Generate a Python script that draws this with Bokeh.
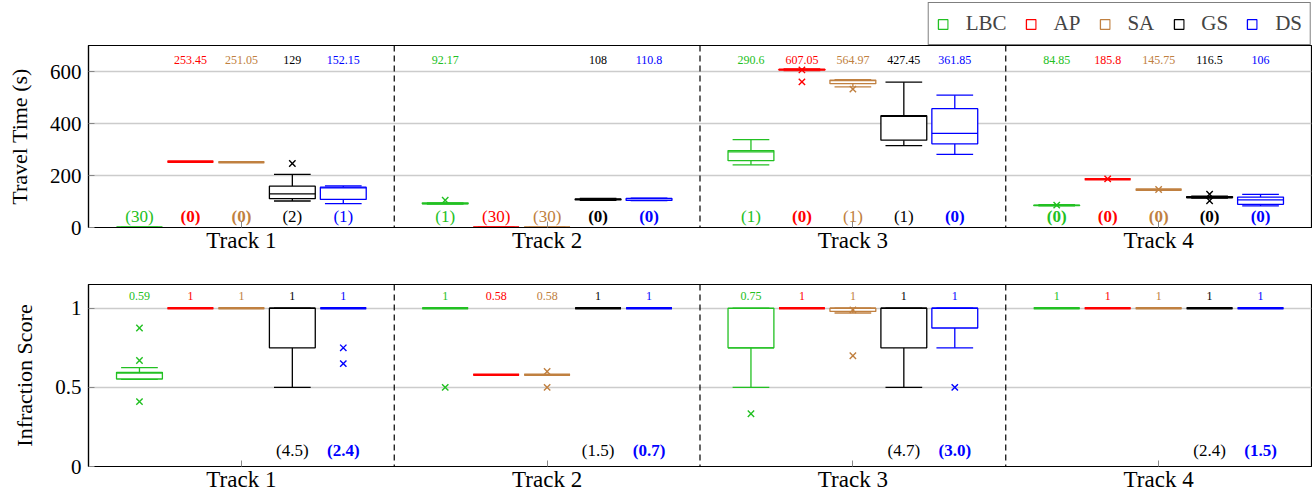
from bokeh.plotting import figure
from bokeh.models import Range1d, FixedTicker, Legend, LegendItem, ColumnDataSource, Span
from bokeh.layouts import column
from bokeh.core.properties import value
from bokeh.embed import file_html
from bokeh.resources import INLINE

tracks = ["Track 1", "Track 2", "Track 3", "Track 4"]
methods = ["LBC", "AP", "SA", "GS", "DS"]
colors = ["#22c022", "#ff0000", "#c08040", "#000000", "#0000ff"]

# ---- Travel time (s): per track, per method ----
tt_lo = [[0, 253.45, 251.05, 102, 92],
         [90, 0, 0, 104, 103],
         [241, 603, 541, 315, 281],
         [83, 185.8, 145.75, 113, 83]]
tt_q1 = [[0, 253.45, 251.05, 111, 108],
         [91, 0, 0, 106, 104],
         [257, 605, 553, 336, 322],
         [84, 185.8, 145.75, 114, 89]]
tt_med = [[0, 253.45, 251.05, 129, 152.15],
          [92.17, 0, 0, 108, 110.8],
          [290.6, 607.05, 564.97, 427.45, 361.85],
          [84.85, 185.8, 145.75, 116.5, 106]]
tt_q3 = [[0, 253.45, 251.05, 159, 155],
         [95, 0, 0, 110, 112],
         [296, 609, 567, 430, 457],
         [86, 185.8, 145.75, 119, 117]]
tt_hi = [[0, 253.45, 251.05, 204, 160],
         [96, 0, 0, 112, 113],
         [338, 610, 569, 559, 509],
         [88, 185.8, 145.75, 121, 127.5]]
# outliers: (track index, method index, value)
tt_outliers = [(0, 3, 246), (1, 0, 105), (2, 1, 606), (2, 1, 560), (2, 2, 532),
               (3, 0, 86), (3, 1, 187), (3, 2, 146), (3, 3, 128), (3, 3, 103)]
# failures out of 30 runs
failures = [[30, 0, 0, 2, 1],
            [1, 30, 30, 0, 0],
            [1, 0, 1, 1, 0],
            [0, 0, 0, 0, 0]]

# ---- Infraction score ----
is_lo = [[0.55, 1, 1, 0.5, 1],
         [1, 0.58, 0.58, 1, 1],
         [0.5, 1, 0.97, 0.5, 0.75],
         [1, 1, 1, 1, 1]]
is_q1 = [[0.553, 1, 1, 0.75, 1],
         [1, 0.58, 0.58, 1, 1],
         [0.75, 1, 0.98, 0.75, 0.875],
         [1, 1, 1, 1, 1]]
is_med = [[0.59, 1, 1, 1, 1],
          [1, 0.58, 0.58, 1, 1],
          [0.75, 1, 1, 1, 1],
          [1, 1, 1, 1, 1]]
is_q3 = [[0.595, 1, 1, 1, 1],
         [1, 0.58, 0.58, 1, 1],
         [1, 1, 1, 1, 1],
         [1, 1, 1, 1, 1]]
is_hi = [[0.625, 1, 1, 1, 1],
         [1, 0.58, 0.58, 1, 1],
         [1, 1, 1, 1, 1],
         [1, 1, 1, 1, 1]]
is_outliers = [(0, 0, 0.875), (0, 0, 0.67), (0, 0, 0.41), (0, 4, 0.75), (0, 4, 0.65),
               (1, 0, 0.5), (1, 2, 0.6), (1, 2, 0.5), (2, 0, 0.333), (2, 2, 0.99),
               (2, 2, 0.7), (2, 4, 0.5)]
# mean infractions shown for GS and DS
gs_infr = [4.5, 1.5, 4.7, 2.4]
ds_infr = [2.4, 0.7, 3.0, 1.5]

FONT = "Liberation Serif"
N = len(methods)
BOX_W = 0.15
CAP_W = 0.12
FW, FH = 1223, 182
LEFT, RIGHT = 88, 1


def xpos(t, m):
    return t + (m + 1) / (N + 1)


def make_fig(min_top, min_bottom, ymax, yticks, ylabels, ylabel, lo, q1, med, q3, hi, outl):
    p = figure(frame_width=FW, frame_height=FH, x_range=Range1d(0, len(tracks)),
               y_range=Range1d(0, ymax), output_backend="svg", toolbar_location=None,
               min_border_left=LEFT, min_border_right=RIGHT, min_border_top=min_top,
               min_border_bottom=min_bottom)
    p.xgrid.visible = False
    p.ygrid.ticker = FixedTicker(ticks=yticks)
    p.ygrid.grid_line_color = "#cccccc"
    p.ygrid.grid_line_width = 1.5
    p.outline_line_color = "black"
    p.outline_line_width = 1.2
    centers = [i + 0.5 for i in range(len(tracks))]
    p.xaxis.ticker = FixedTicker(ticks=centers)
    p.xaxis.major_label_overrides = {c: t for c, t in zip(centers, tracks)}
    p.yaxis.ticker = FixedTicker(ticks=yticks)
    p.yaxis.major_label_overrides = {v: s for v, s in zip(yticks, ylabels)}
    for ax in (p.xaxis[0], p.yaxis[0]):
        ax.major_tick_in = 6
        ax.major_tick_out = 0
        ax.minor_tick_line_color = None
        ax.major_tick_line_color = "#888888"
        ax.axis_line_color = "black"
        ax.axis_line_width = 1.2
        ax.major_label_text_font = FONT
        ax.major_label_text_font_size = "21px"
        ax.major_label_text_color = "black"
    p.xaxis.major_label_text_font_size = "23px"
    p.xaxis.major_label_standoff = 0
    p.yaxis.major_label_standoff = 7
    p.yaxis.axis_label = ylabel
    p.yaxis.axis_label_text_font = FONT
    p.yaxis.axis_label_text_font_size = "22px"
    p.yaxis.axis_label_text_color = "black"
    p.yaxis.axis_label_text_font_style = "normal"
    p.yaxis.axis_label_standoff = 15

    for i in range(1, len(tracks)):
        p.add_layout(Span(location=i, dimension="height", line_color="black",
                          line_width=1.2, line_dash="6 4"))

    sources = []
    for k in range(N):
        xs = [xpos(t, k) for t in range(len(tracks))]
        q1k = [q1[t][k] for t in range(len(tracks))]
        q3k = [q3[t][k] for t in range(len(tracks))]
        src = ColumnDataSource(dict(
            x=xs,
            lo=[lo[t][k] for t in range(len(tracks))],
            q1=q1k,
            med=[med[t][k] for t in range(len(tracks))],
            q3=q3k,
            hi=[hi[t][k] for t in range(len(tracks))],
            mw=[2.6 if a == b else 1.3 for a, b in zip(q1k, q3k)],
            bl=[x - BOX_W / 2 for x in xs], br=[x + BOX_W / 2 for x in xs],
            cl=[x - CAP_W / 2 for x in xs], cr=[x + CAP_W / 2 for x in xs]))
        col = colors[k]
        p.segment(x0="x", y0="q3", x1="x", y1="hi", line_color=col, line_width=1.3, source=src)
        p.segment(x0="x", y0="q1", x1="x", y1="lo", line_color=col, line_width=1.3, source=src)
        p.segment(x0="cl", y0="hi", x1="cr", y1="hi", line_color=col, line_width=1.3, source=src)
        p.segment(x0="cl", y0="lo", x1="cr", y1="lo", line_color=col, line_width=1.3, source=src)
        p.quad(left="bl", right="br", bottom="q1", top="q3", fill_color="white",
               line_color=col, line_width=1.3, source=src)
        p.segment(x0="bl", y0="med", x1="br", y1="med", line_color=col, line_width="mw", source=src)
        sources.append(src)

    ox = [xpos(t, k) for t, k, v in outl]
    oy = [v for t, k, v in outl]
    oc = [colors[k] for t, k, v in outl]
    p.scatter(x=ox, y=oy, marker="x", size=9, line_color=oc, line_width=1.4)
    return p, sources


# ---------------- top panel ----------------
top, tt_sources = make_fig(0, 28, 700, [0, 200, 400, 600], ["0", "200", "400", "600"],
                           "Travel Time (s)", tt_lo, tt_q1, tt_med, tt_q3, tt_hi, tt_outliers)

vx, vy, vt, vc = [], [], [], []
nx, ny, nt, nc = [], [], [], []
bx, by, bt, bc = [], [], [], []
for t in range(len(tracks)):
    for k in range(N):
        if failures[t][k] < 30:
            vx.append(xpos(t, k)); vy.append(645); vt.append(f"{tt_med[t][k]:g}"); vc.append(colors[k])
        lab = f"({failures[t][k]})"
        if failures[t][k] == 0:
            bx.append(xpos(t, k)); by.append(44); bt.append(lab); bc.append(colors[k])
        else:
            nx.append(xpos(t, k)); ny.append(44); nt.append(lab); nc.append(colors[k])
top.text(x=vx, y=vy, text=vt, text_color=vc, text_align="center", text_baseline="middle",
         text_font=value(FONT), text_font_size="12px")
top.text(x=nx, y=ny, text=nt, text_color=nc, text_align="center", text_baseline="middle",
         text_font=value(FONT), text_font_size="17px")
top.text(x=bx, y=by, text=bt, text_color=bc, text_align="center", text_baseline="middle",
         text_font=value(FONT), text_font_size="17px", text_font_style="bold")

# ---------------- legend strip (boxes kept out of its visible range) ----------------
leg = figure(width=LEFT + FW + RIGHT, height=45, x_range=Range1d(-20, -10), y_range=Range1d(-20, -10),
             output_backend="svg", toolbar_location=None, x_axis_location=None,
             y_axis_location=None, min_border=0, outline_line_color=None)
leg.grid.visible = False
items = []
for k in range(N):
    r = leg.quad(left="bl", right="br", bottom="q1", top="q3", fill_color="white",
                 line_color=colors[k], line_width=1.3, source=tt_sources[k])
    items.append(LegendItem(label=methods[k], renderers=[r]))
legend = Legend(items=items, orientation="horizontal", location="bottom_right",
                label_text_font=FONT, label_text_font_size="21px", border_line_color="black",
                border_line_width=1.2, padding=8, spacing=18, glyph_width=12, glyph_height=12,
                label_standoff=17, margin=0, background_fill_alpha=1.0,
                label_text_baseline="middle")
leg.add_layout(legend)

# ---------------- bottom panel ----------------
bot, _ = make_fig(29, 28, 1.15, [0, 0.5, 1], ["0", "0.5", "1"],
                  "Infraction Score", is_lo, is_q1, is_med, is_q3, is_hi, is_outliers)
vx, vy, vt, vc = [], [], [], []
for t in range(len(tracks)):
    for k in range(N):
        vx.append(xpos(t, k)); vy.append(1.077); vt.append(f"{is_med[t][k]:g}"); vc.append(colors[k])
bot.text(x=vx, y=vy, text=vt, text_color=vc, text_align="center", text_baseline="middle",
         text_font=value(FONT), text_font_size="12px")
bot.text(x=[xpos(t, 3) for t in range(len(tracks))], y=[0.104] * len(tracks),
         text=[f"({v:.1f})" for v in gs_infr], text_color=colors[3], text_align="center",
         text_baseline="middle", text_font=value(FONT), text_font_size="17px")
bot.text(x=[xpos(t, 4) for t in range(len(tracks))], y=[0.104] * len(tracks),
         text=[f"({v:.1f})" for v in ds_infr], text_color=colors[4], text_align="center",
         text_baseline="middle", text_font=value(FONT), text_font_size="17px",
         text_font_style="bold")

layout = column(leg, top, bot, spacing=0)
open("out.html", "w").write(file_html(layout, INLINE))
